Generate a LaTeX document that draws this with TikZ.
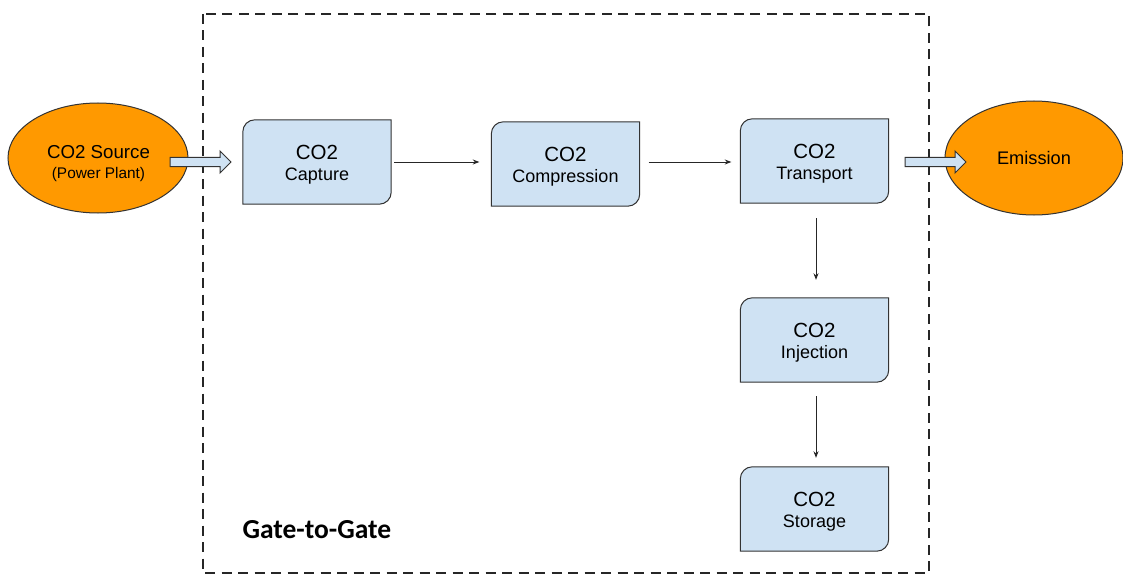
\documentclass[tikz,border=0pt]{standalone}
\usepackage{fontspec}
\setmainfont{Liberation Sans}
\newfontfamily\gatefont{Carlito}
\usetikzlibrary{arrows.meta,shapes.geometric,backgrounds}
\definecolor{boxfill}{HTML}{CFE2F3}
\definecolor{boxline}{HTML}{333333}
\definecolor{orangefill}{HTML}{FF9900}
\tikzset{
  procbox/.style={minimum width=148pt, minimum height=84pt, inner sep=0pt, align=center,
    font=\fontsize{18}{21}\selectfont},
  srcell/.style={ellipse, draw=boxline, line width=1pt, fill=orangefill, inner sep=0pt,
    minimum width=180pt, minimum height=110pt, align=center},
  flow/.style={-{Stealth[length=6.5pt,width=5pt]}, line width=0.9pt, black!85},
  blockarrow/.style={draw=boxline, line width=1pt, fill=boxfill, line join=miter},
  gate/.style={draw=black!85, line width=2.6pt, dash pattern=on 10pt off 6.5pt},
}
% outline is drawn 3pt above the node centre, so the text sits slightly low as in the reference
\newcommand\roundbox[1]{%
  \draw[fill=boxfill, draw=boxline, line width=1pt]
    ([yshift=3pt]#1.south west) -- ([yshift=-9pt]#1.north west)
    to[out=90,in=180] ([xshift=12pt,yshift=3pt]#1.north west) -- ([yshift=3pt]#1.north east)
    -- ([yshift=15pt]#1.south east) to[out=-90,in=0] ([xshift=-12pt,yshift=3pt]#1.south east)
    -- cycle;}
\newcommand\bl[1]{{\fontsize{20.5}{21}\selectfont #1}}
\begin{document}
\begin{tikzpicture}[x=1pt, y=-1pt]
\useasboundingbox (0,0) rectangle (1123,575);
% gate-to-gate boundary
\draw[gate] (203,14) rectangle (929,573);
\node[anchor=base west, font=\gatefont\bfseries\fontsize{27.5}{29}\selectfont] (gtg) at (239,538) {Gate-to-Gate};
% ellipses
\node[srcell] (src) at (98,158) {};
\node[anchor=base, font=\fontsize{18.7}{20}\selectfont] (srct) at (98.5,158) {CO2 Source};
\node[anchor=base, font=\fontsize{15.4}{17}\selectfont] (srcp) at (98.5,178) {(Power Plant)};
\node[srcell, minimum width=178pt, minimum height=114pt, font=\fontsize{18.2}{20}\selectfont] (emi) at (1034,158) {Emission};
% process boxes
\path (317,165) node[procbox] (cap) {\bl{CO2}\\Capture}
      (565.5,167) node[procbox] (cmp) {\bl{CO2}\\Compression}
      (814.5,164) node[procbox] (trn) {\bl{CO2}\\Transport}
      (814.5,343) node[procbox] (inj) {\bl{CO2}\\Injection}
      (814.5,512) node[procbox] (sto) {\bl{CO2}\\Storage};
\begin{scope}[on background layer]
\fill[white] (0,0) rectangle (1123,575);
\roundbox{cap}\roundbox{cmp}\roundbox{trn}\roundbox{inj}\roundbox{sto}
\end{scope}
% block arrows
\coordinate (la) at (170,162);
\coordinate (ra) at (905,162);
\draw[blockarrow] (la) ++(0,-4.7) -- ++(50,0) -- ++(0,-6.3) -- ++(11,11) -- ++(-11,11) -- ++(0,-6.3) -- ++(-50,0) -- cycle;
\draw[blockarrow] (ra) ++(0,-4.7) -- ++(50,0) -- ++(0,-6.3) -- ++(11,11) -- ++(-11,11) -- ++(0,-6.3) -- ++(-50,0) -- cycle;
% flow connectors
\draw[flow, shorten <=3pt, shorten >=12pt] (cap.east |- 0,162) -- (cmp.west |- 0,162);
\draw[flow, shorten <=9pt, shorten >=9pt] (cmp.east |- 0,162) -- (trn.west |- 0,162);
\draw[flow, shorten <=12pt, shorten >=21pt] (trn.south -| 816,0) -- (inj.north -| 816,0);
\draw[flow, shorten <=11pt, shorten >=12pt] (inj.south -| 816,0) -- (sto.north -| 816,0);
\end{tikzpicture}
\end{document}
